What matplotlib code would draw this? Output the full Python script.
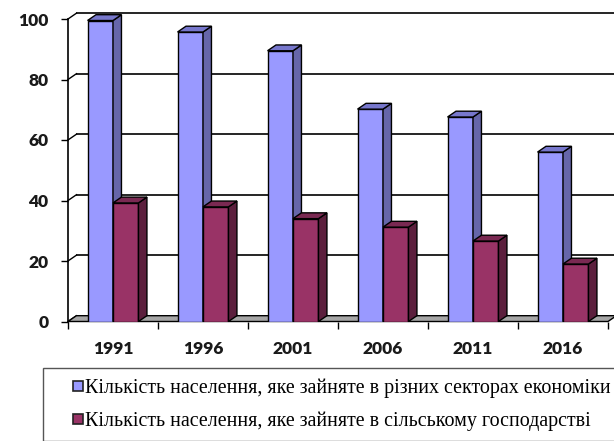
import matplotlib
matplotlib.use('Agg')
import matplotlib.pyplot as plt
from matplotlib.patches import Polygon
from matplotlib.lines import Line2D
from matplotlib.font_manager import FontProperties

# ---- data ----
years = ['1991', '1996', '2001', '2006', '2011', '2016']
employed_total = [99.5, 95.7, 89.5, 70.2, 67.6, 56.0]
employed_agri = [39.2, 37.9, 34.0, 31.2, 26.6, 19.0]
series_labels = ['Кількість населення, яке зайняте в різних секторах економіки',
                 'Кількість населення, яке зайняте в сільському господарстві']
y_ticks = [0, 20, 40, 60, 80, 100]

# ---- styling ----
W_PX, H_PX = 614, 441
fig = plt.figure(figsize=(W_PX / 100, H_PX / 100), dpi=100)
ax = fig.add_axes([68 / W_PX, 119.5 / H_PX, 540 / W_PX, 302.5 / H_PX])
n = len(years)
ax.set_xlim(0, n)
ax.set_ylim(0, 100)
ax.set_facecolor('none')
for s in ax.spines.values():
    s.set_visible(False)

DX, DY = 0.094, 1.92     # oblique depth offset (data units)
BW = 0.283               # bar width (category units)
EC = 'black'

z = [3]

def nz():
    z[0] += 0.01
    return z[0]

# floor
ax.add_patch(Polygon([(0, 0), (n, 0), (n + DX, DY), (DX, DY)], closed=True,
                     fc='#a6a6a6', ec=EC, lw=1.0, zorder=2, clip_on=False))
# back wall gridlines + connectors
for v in y_ticks:
    if v > 0:
        ax.plot([DX, n + DX + 0.1], [v + DY, v + DY], color='black', lw=1.2,
                zorder=1, clip_on=False, solid_capstyle='butt')
    ax.plot([0, DX], [v, v + DY], color='black', lw=1.0, zorder=1, clip_on=False)
# front vertical axis
ax.plot([0, 0], [0, 100], color='black', lw=1.2, zorder=1, clip_on=False)


def draw_bar(x0, v, front, top, side):
    ax.bar(x0, v, width=BW, align='edge', color=front, edgecolor=EC, lw=1.0,
           zorder=nz())
    ax.add_patch(Polygon([(x0 + BW, 0), (x0 + BW + DX, DY), (x0 + BW + DX, v + DY),
                          (x0 + BW, v)], closed=True, fc=side, ec=EC, lw=1.0,
                         zorder=nz(), clip_on=False))
    ax.add_patch(Polygon([(x0, v), (x0 + BW, v), (x0 + BW + DX, v + DY),
                          (x0 + DX, v + DY)], closed=True, fc=top, ec=EC, lw=1.0,
                         zorder=nz(), clip_on=False))


blue = ('#9999ff', '#7777cc', '#6666aa')
red = ('#993366', '#7a2952', '#5c1f3d')
for i in range(n):
    c = i + 0.5
    draw_bar(c - BW, employed_total[i], *blue)
    draw_bar(c, employed_agri[i], *red)

# ticks
tick_font = dict(family='Lato', weight='heavy', size=12.5)
ax.set_yticks(y_ticks)
ax.set_yticklabels([str(t) for t in y_ticks], fontdict=tick_font, color='#1a1a1a')
ax.tick_params(axis='y', length=5, width=1.0, pad=9, direction='out')
ax.set_xticks(range(n + 1))
ax.set_xticklabels([])
ax.tick_params(axis='x', which='major', length=5, width=1.0, direction='out')
ax.set_xticks([i + 0.5 for i in range(n)], minor=True)
ax.set_xticklabels(years, minor=True, fontdict=tick_font, color='#1a1a1a')
ax.tick_params(axis='x', which='minor', length=0, pad=14)

# legend
handles = [Line2D([], [], ls='none', marker='s', markersize=6.5,
                  markerfacecolor=blue[0], markeredgecolor='#222222', markeredgewidth=1.2),
           Line2D([], [], ls='none', marker='s', markersize=6.5,
                  markerfacecolor=red[0], markeredgecolor='#222222', markeredgewidth=1.2)]
leg = fig.legend(handles, series_labels, loc='upper left',
                 bbox_to_anchor=(43 / W_PX, 1 - 368 / H_PX), borderaxespad=0,
                 prop=FontProperties(family='Liberation Serif', size=14.4),
                 frameon=True, fancybox=False, framealpha=1, edgecolor='#555555',
                 borderpad=0.5, handlelength=2.45, handletextpad=-0.85,
                 labelspacing=0.72)
leg.get_frame().set_linewidth(1.0)

fig.savefig('out.png', dpi=100)
